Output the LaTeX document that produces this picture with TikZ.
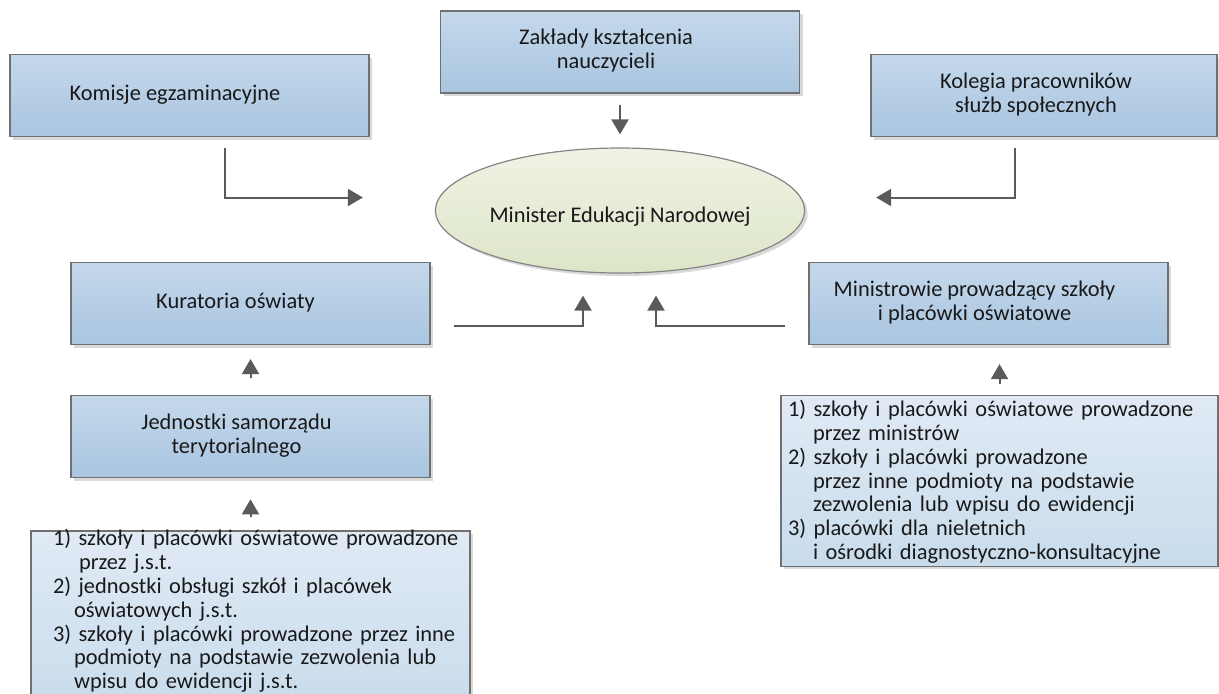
\documentclass[tikz,border=0pt]{standalone}
\usepackage{fontspec}
\setmainfont{Carlito}
\usetikzlibrary{shapes,arrows.meta,positioning,shadows}
\definecolor{blocktop}{HTML}{C4D8EB}
\definecolor{blockbottom}{HTML}{A9C5E0}
\definecolor{listtop}{HTML}{E0EAF5}
\definecolor{listbottom}{HTML}{C9DCEC}
\definecolor{elltop}{HTML}{EFF3E4}
\definecolor{ellbottom}{HTML}{DDE5C8}
\definecolor{framegray}{HTML}{707070}
\definecolor{arrowgray}{HTML}{5A5A5A}
\tikzset{>={Triangle[length=7.5pt,width=8.5pt]}, font=\fontsize{11.2}{11.9}\selectfont, text=black!90}
\tikzstyle{boxshadow} = [drop shadow={shadow xshift=1.5pt, shadow yshift=-1.5pt, fill=black!15, opacity=1}]
\tikzstyle{block} = [draw=framegray, line width=0.6pt, rectangle, top color=blocktop, bottom color=blockbottom, minimum width=179.5pt, minimum height=41pt, inner sep=0pt, boxshadow]
\tikzstyle{listbox} = [draw=framegray, line width=0.6pt, rectangle, top color=listtop, bottom color=listbottom, align=left, inner ysep=1.5pt, boxshadow]
\tikzstyle{minister} = [draw=framegray!85, line width=0.6pt, ellipse, top color=elltop, bottom color=ellbottom, minimum width=180pt, minimum height=62.5pt, inner sep=0pt, text height=11.5pt, text depth=0pt, boxshadow]
\tikzstyle{conn} = [->, draw=arrowgray, line width=1pt]
\newcommand{\boxtext}[2][14pt]{\begin{tabular}{@{}c@{}}#2\end{tabular}\hspace*{#1}}

\begin{document}
\begin{tikzpicture}[x=0.5pt, y=-0.5pt]
	\useasboundingbox (0,0) rectangle (1219,693);

	\node [minister] (men) at (620,210.5) {Minister Edukacji Narodowej};

	\node [block] (zak) at (620,52) {\boxtext{Zakłady kształcenia\\nauczycieli}};
	\node [block] (kom) at (189.5,95.5) {\boxtext[14.5pt]{Komisje egzaminacyjne}};
	\node [block, minimum width=173pt] (kol) at (1044,95.5) {\boxtext[8pt]{Kolegia pracowników\\służb społecznych}};

	\node [block] (kur) at (250.5,303.5) {\boxtext[15pt]{Kuratoria oświaty}};
	\node [block, below=25pt of kur] (jst) {\boxtext{Jednostki samorządu\\terytorialnego}};
	\node [listbox, below=26pt of jst, inner xsep=3pt, text width=213.5pt, text height=6pt] (llist) {%
		\hspace*{8pt}1) szkoły i placówki oświatowe prowadzone\\
		\hspace*{21pt}przez j.s.t.\\
		\hspace*{8pt}2) jednostki obsługi szkół i placówek\\
		\hspace*{18.5pt}oświatowych j.s.t.\\
		\hspace*{8pt}3) szkoły i placówki prowadzone przez inne\\
		\hspace*{18.5pt}podmioty na podstawie zezwolenia lub\\
		\hspace*{18.5pt}wpisu do ewidencji j.s.t.\\[-4pt]
		\mbox{}};

	\node [block] (min) at (988.5,303.5) {\boxtext{Ministrowie prowadzący szkoły\\i placówki oświatowe}};
	\node [listbox, below=25pt of min, xshift=5.5pt, inner xsep=3.5pt, text width=211.5pt, text height=9pt] (rlist) {%
		1) szkoły i placówki oświatowe prowadzone\\
		\hspace*{12.5pt}przez ministrów\\
		2) szkoły i placówki prowadzone\\
		\hspace*{12.5pt}przez inne podmioty na podstawie\\
		\hspace*{12.5pt}zezwolenia lub wpisu do ewidencji\\
		3) placówki dla nieletnich\\
		\hspace*{12.5pt}i ośrodki diagnostyczno-konsultacyjne};

	\coordinate [below=5.5pt of kom, xshift=17.75pt] (kom_out);
	\coordinate [left=36pt of men, yshift=6.5pt] (men_kom);
	\coordinate [below=5.5pt of kol, xshift=-14.5pt] (kol_out);
	\coordinate [right=35.5pt of men, yshift=6.5pt] (men_kol);
	\coordinate [right=11.5pt of kur, yshift=-11.25pt] (kur_out);
	\coordinate [below=11pt of men, xshift=-18.5pt] (men_kur);
	\coordinate [left=11.5pt of min, yshift=-11.25pt] (min_out);
	\coordinate [below=11pt of men, xshift=18pt] (men_min);

	\draw [conn] ([yshift=-5.5pt]zak.south) -- ([yshift=6.5pt]men.north);
	\draw [conn] (kom_out) |- (men_kom);
	\draw [conn] (kol_out) |- (men_kol);
	\draw [conn] (kur_out) -| (men_kur);
	\draw [conn] (min_out) -| (men_min);

	\draw [conn] ([yshift=8.5pt]jst.north) -- ([yshift=-7pt]kur.south);
	\draw [conn] ([yshift=6.5pt]llist.north) -- ([yshift=-10.5pt]jst.south);
	\draw [conn] ([yshift=5.5pt]rlist.north) -- ([yshift=-9.5pt]rlist.north |- min.south);
\end{tikzpicture}
\end{document}
